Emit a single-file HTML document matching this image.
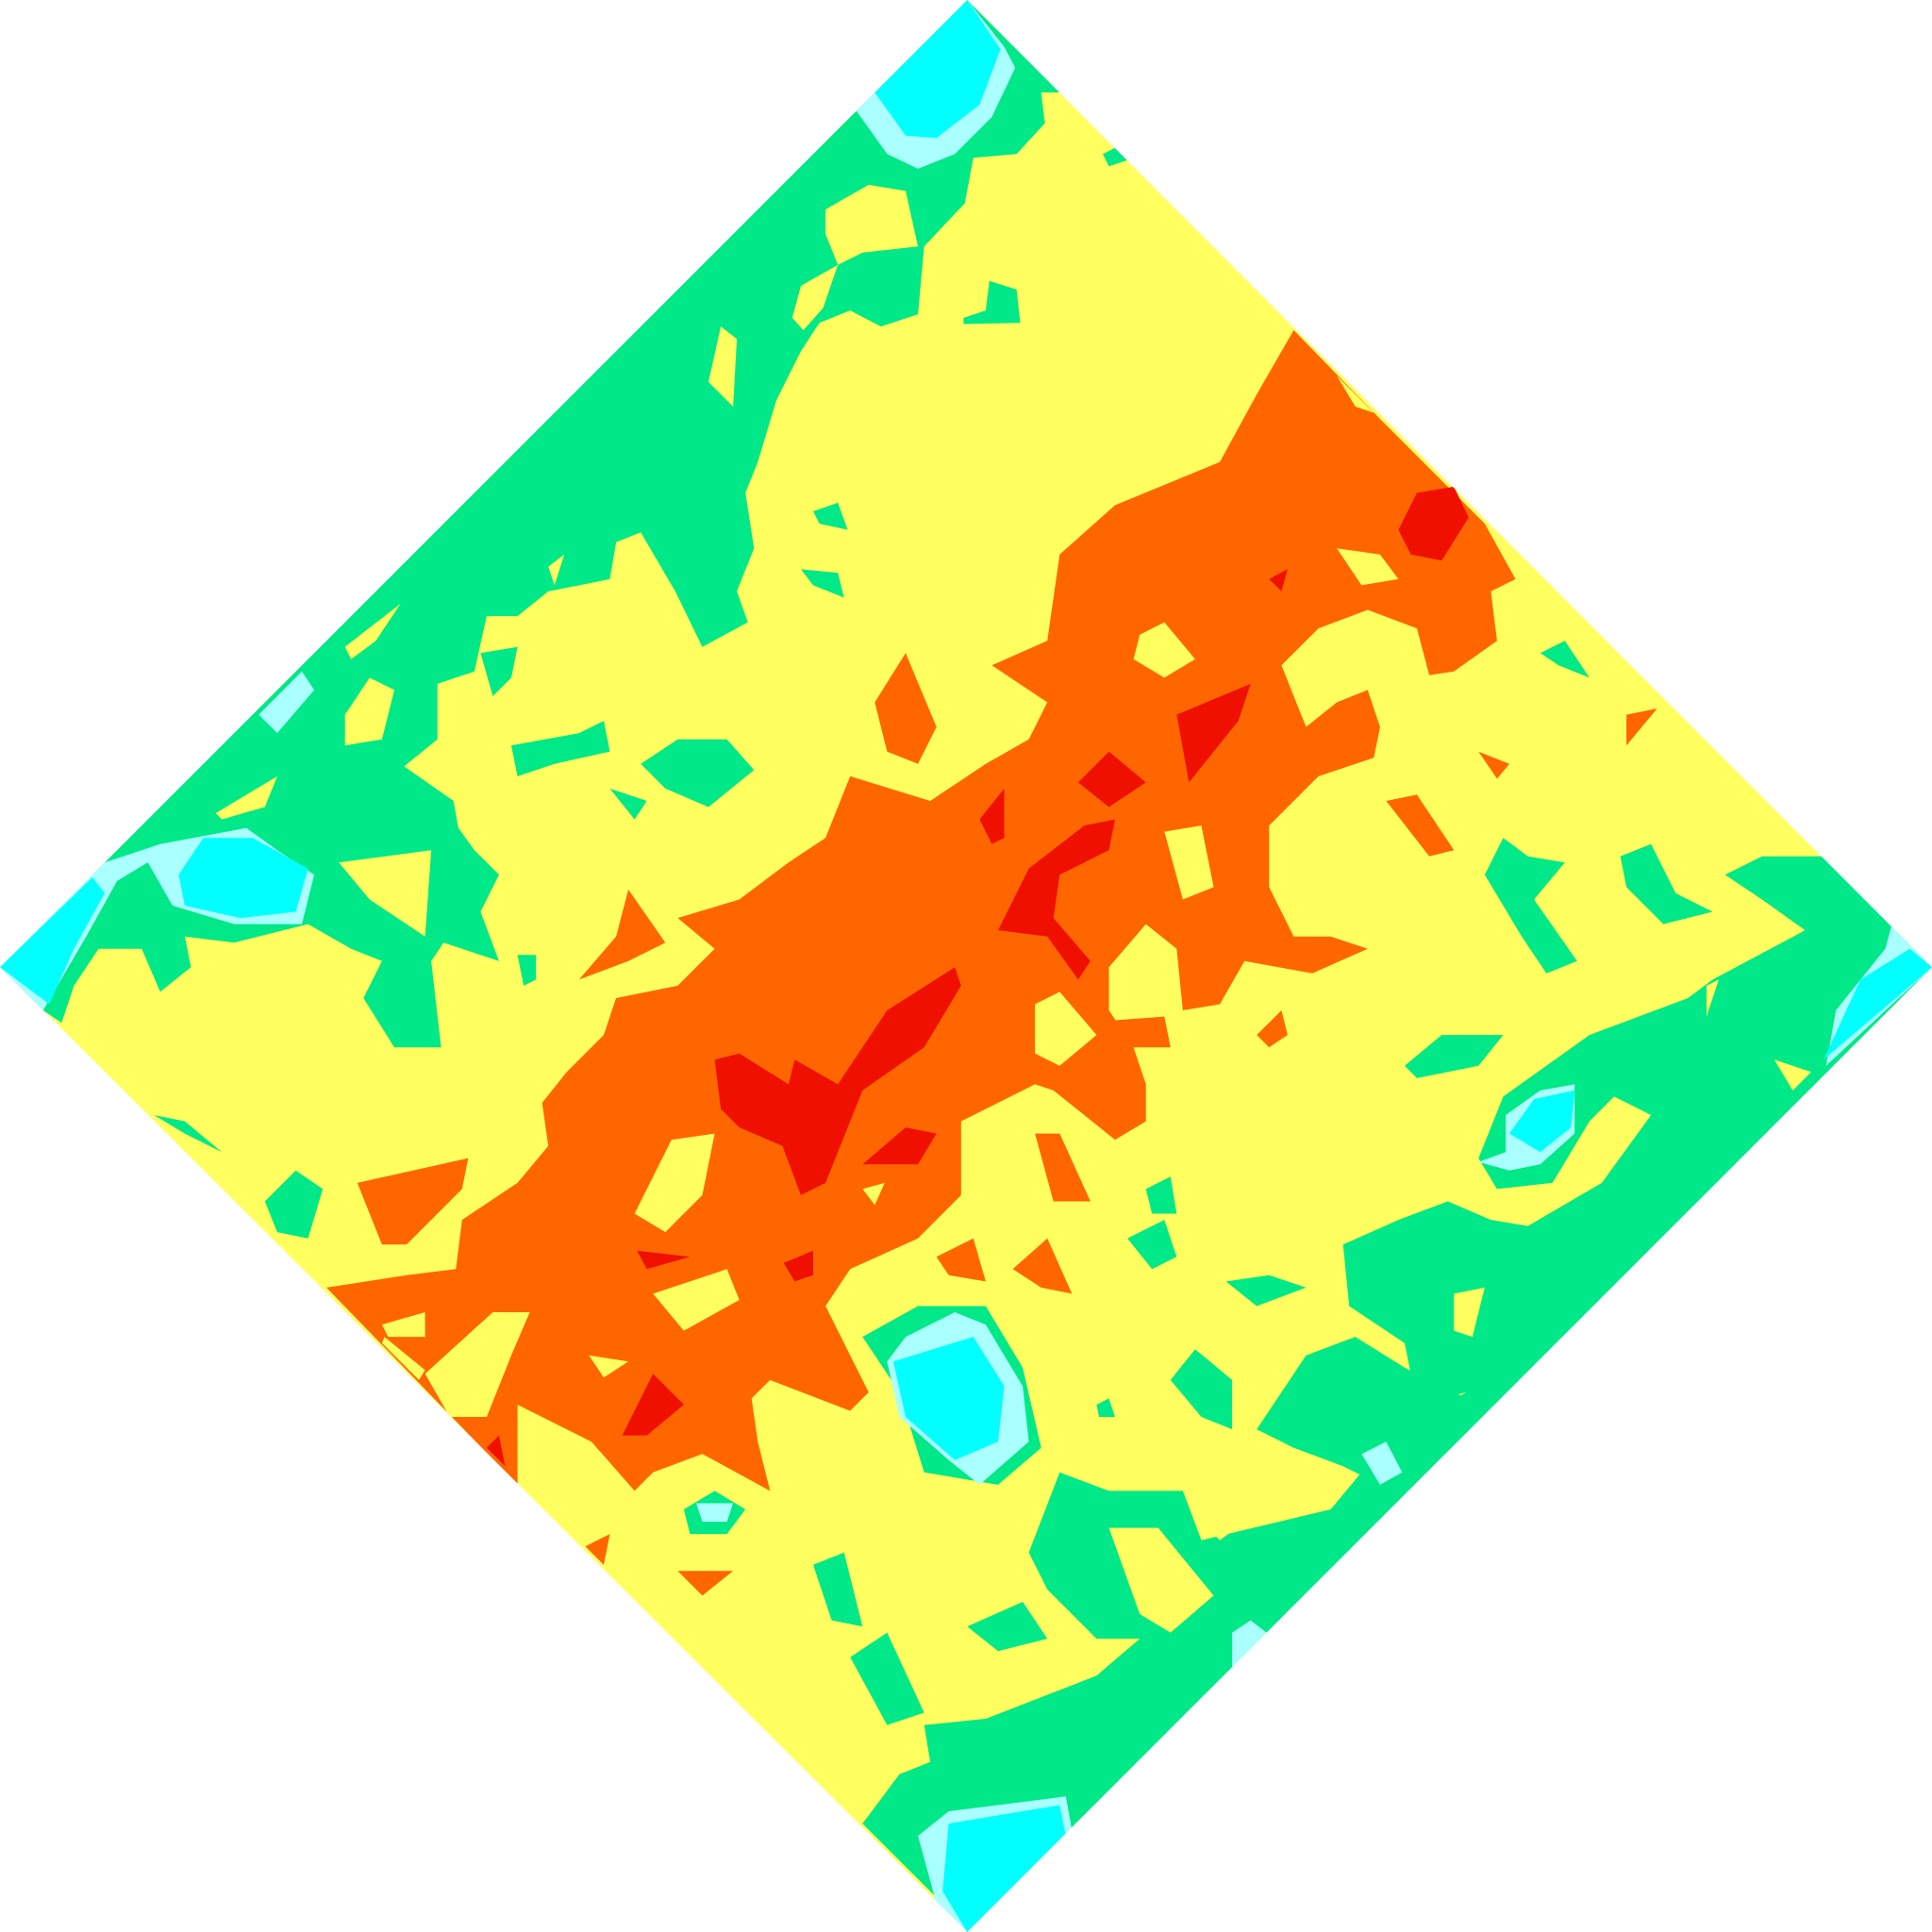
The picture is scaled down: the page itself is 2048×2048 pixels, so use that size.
<!DOCTYPE html>
<html lang="en">
<head>
<meta charset="utf-8">
<title>Contour map</title>
<style>
html,body{margin:0;padding:0;background:#fff;width:2048px;height:2048px;overflow:hidden}
svg{display:block}
</style>
</head>
<body>
<svg id="chart" xmlns="http://www.w3.org/2000/svg" width="2048" height="2048" viewBox="0 0 2048 2048">
<defs><clipPath id="diamond-clip"><polygon id="diamond-clip-shape" points="0,0"/></clipPath></defs>
<g id="plot" clip-path="url(#diamond-clip)"></g>
</svg>
<script>
const domainMax = 1568;
const rangeMax = 2048;
const outline = [[785,0],[1568,785],[785,1568],[0,785]];
const greenBands = [
[[0,785],[785,0],[860,75],[845,75],[848,100],[825,125],[790,128],[783,165],[750,200],[745,255],[715,265],[690,252],[665,262],[650,285],[630,325],[615,375],[605,400],[612,445],[598,480],[607,505],[570,525],[548,480],[520,432],[500,440],[495,470],[445,480],[420,500],[395,500],[385,545],[355,555],[355,600],[328,622],[368,650],[372,672],[385,690],[405,710],[390,740],[405,780],[360,765],[350,780],[358,850],[320,850],[295,810],[310,780],[285,770],[250,750],[190,765],[150,760],[155,785],[130,805],[115,770],[80,770],[60,800],[50,830],[35,820]],
[[1400,710],[1430,695],[1480,695],[1568,785],[785,1568],[760,1540],[700,1480],[730,1440],[755,1430],[750,1400],[800,1395],[890,1360],[925,1330],[890,1330],[850,1290],[835,1260],[860,1195],[900,1210],[960,1210],[975,1250],[1080,1225],[1130,1165],[1190,1130],[1150,1140],[1140,1090],[1095,1060],[1090,1010],[1135,990],[1175,975],[1210,990],[1240,995],[1300,960],[1340,905],[1310,890],[1290,910],[1260,960],[1215,965],[1200,940],[1220,890],[1290,840],[1370,810],[1390,795],[1465,755],[1430,730]],
[[895,125],[905,120],[915,130],[900,135]],
[[782,258],[800,252],[803,228],[825,235],[828,262],[782,263]],
[[660,415],[680,408],[688,430],[665,425]],
[[650,462],[680,465],[685,485],[660,475]],
[[390,530],[420,525],[415,550],[400,565]],
[[415,605],[470,595],[490,585],[495,610],[450,620],[420,630]],
[[520,620],[550,600],[590,600],[612,625],[575,655],[540,640]],
[[495,640],[525,650],[515,665]],
[[125,905],[150,910],[180,935],[150,920]],
[[215,975],[240,950],[262,965],[250,1005],[225,1000]],
[[420,775],[435,775],[435,795],[425,800]],
[[1205,710],[1220,680],[1240,695],[1270,700],[1245,730],[1280,780],[1255,790],[1235,760]],
[[1315,695],[1340,685],[1360,725],[1390,740],[1350,750],[1320,720]],
[[1140,865],[1170,840],[1220,840],[1200,865],[1150,875]],
[[930,965],[950,955],[955,985],[935,985]],
[[915,1005],[945,990],[955,1020],[935,1030]],
[[995,1040],[1030,1035],[1060,1045],[1020,1060]],
[[950,1120],[970,1095],[1000,1120],[1000,1160],[975,1150]],
[[890,1140],[900,1135],[905,1150],[892,1150]],
[[1020,1160],[1060,1100],[1100,1085],[1140,1110],[1190,1135],[1160,1160],[1130,1210],[1090,1190],[1050,1175]],
[[660,1270],[685,1260],[700,1320],[675,1315]],
[[690,1345],[720,1325],[750,1390],[720,1400]],
[[785,1320],[830,1300],[850,1330],[810,1340]],
[[700,1085],[745,1060],[800,1060],[830,1110],[845,1175],[810,1205],[750,1195],[730,1130]],
[[555,1225],[580,1210],[605,1225],[590,1245],[560,1245]],
[[1250,530],[1270,520],[1290,550],[1265,540]]
];
const yellowInGreen = [
[[670,170],[705,150],[735,155],[745,200],[700,205],[680,215],[670,190]],
[[643,258],[650,232],[680,215],[668,250],[652,268]],
[[575,310],[585,265],[598,275],[595,330]],
[[280,580],[300,550],[320,560],[310,600],[280,605]],
[[280,525],[325,490],[305,520],[285,535]],
[[175,660],[225,630],[215,655],[180,665]],
[[275,700],[350,690],[345,760],[300,730]],
[[445,460],[458,450],[450,475]],
[[1180,1050],[1205,1045],[1195,1085],[1180,1080]],
[[1440,860],[1470,870],[1455,885]],
[[1385,800],[1395,795],[1385,825]],
[[900,1240],[940,1240],[985,1295],[950,1325],[925,1310]],
[[980,1240],[1030,1220],[990,1250]]
];
const orangeBands = [
[[1050,268],[1120,340],[1205,425],[1230,470],[1210,480],[1215,520],[1180,545],[1160,548],[1150,510],[1110,495],[1070,510],[1040,540],[1060,590],[1085,570],[1110,560],[1120,590],[1115,615],[1070,630],[1030,670],[1030,720],[1050,760],[1080,760],[1110,770],[1065,790],[1010,780],[990,815],[960,820],[955,770],[930,750],[900,785],[900,820],[920,850],[930,880],[930,910],[905,925],[880,905],[855,885],[840,880],[780,910],[780,970],[745,1005],[690,1030],[670,1060],[690,1100],[705,1130],[690,1145],[625,1120],[610,1135],[615,1170],[625,1210],[570,1180],[530,1195],[515,1210],[480,1170],[420,1140],[420,1205],[265,1045],[330,1035],[370,1030],[375,990],[420,960],[445,930],[440,895],[460,870],[490,840],[500,810],[550,800],[580,770],[550,745],[600,730],[640,700],[670,680],[690,630],[755,650],[800,620],[835,600],[850,570],[805,540],[850,520],[860,450],[905,410],[990,375],[1020,320]],
[[710,570],[735,530],[760,590],[745,620],[720,610]],
[[470,795],[500,760],[510,722],[540,765],[510,780]],
[[290,960],[380,940],[375,965],[330,1010],[310,1010]],
[[760,1020],[790,1005],[800,1040],[770,1035]],
[[822,1030],[850,1005],[870,1050],[845,1045]],
[[840,920],[860,920],[885,975],[855,975]],
[[1125,650],[1150,645],[1180,690],[1160,695]],
[[1200,610],[1225,620],[1215,632]],
[[1320,580],[1345,575],[1320,605]],
[[550,1275],[595,1275],[570,1295]],
[[475,1255],[495,1245],[490,1270]],
[[1020,840],[1040,820],[1045,840],[1030,850]],
[[905,828],[945,825],[950,850],[915,850]]
];
const yellowInOrange = [
[[925,515],[945,505],[970,535],[945,550],[920,535]],
[[1085,445],[1120,450],[1135,470],[1105,475]],
[[1085,305],[1115,335],[1100,330]],
[[945,675],[975,670],[985,720],[960,730]],
[[840,815],[860,805],[890,840],[860,865],[840,855]],
[[515,985],[545,925],[580,920],[570,970],[540,1000]],
[[530,1050],[590,1030],[600,1055],[555,1080]],
[[700,965],[718,960],[710,978]],
[[310,1075],[345,1065],[345,1085],[315,1085]],
[[312,1085],[345,1112],[340,1120],[310,1090]],
[[345,1115],[400,1065],[430,1065],[415,1100],[395,1150],[365,1150]],
[[478,1100],[510,1105],[490,1118]]
];
const redBands = [
[[580,860],[600,855],[640,880],[645,860],[680,880],[720,820],[775,785],[780,800],[750,850],[700,885],[670,960],[650,970],[635,930],[600,915],[585,900]],
[[700,945],[735,915],[760,920],[745,945]],
[[1135,430],[1150,400],[1180,395],[1192,420],[1170,455],[1145,450]],
[[955,580],[1015,555],[1005,585],[965,635]],
[[875,635],[900,610],[930,635],[900,655]],
[[795,665],[815,640],[815,680],[805,685]],
[[810,755],[835,705],[880,670],[905,665],[900,690],[860,710],[855,745],[885,780],[875,795],[850,760]],
[[517,1015],[560,1020],[525,1030]],
[[636,1025],[660,1015],[660,1035],[645,1040]],
[[505,1165],[530,1115],[555,1140],[525,1165]],
[[1030,470],[1045,462],[1040,480]],
[[395,1175],[405,1165],[410,1190]]
];
const paleBands = [
[[695,90],[785,0],[815,38],[824,55],[805,95],[775,125],[745,137],[720,125]],
[[85,700],[130,685],[200,672],[225,690],[255,710],[245,750],[190,750],[140,735],[120,700],[95,715],[70,760],[35,820],[0,785]],
[[210,580],[245,545],[255,560],[225,595]],
[[745,1490],[770,1470],[865,1458],[870,1485],[785,1568],[760,1545]],
[[1535,752],[1568,785],[1482,865],[1490,820],[1530,770]],
[[1200,943],[1222,935],[1222,905],[1250,885],[1278,880],[1278,920],[1250,945],[1225,950]],
[[720,1105],[735,1085],[775,1065],[800,1075],[830,1125],[835,1170],[795,1205],[770,1185],[730,1150]],
[[1000,1325],[1015,1315],[1028,1325],[1000,1358]],
[[1105,1180],[1125,1170],[1138,1195],[1120,1205]],
[[565,1220],[595,1220],[590,1235],[570,1235]]
];
const cyanBands = [
[[710,75],[785,0],[812,40],[795,85],[760,112],[735,110]],
[[145,710],[165,680],[205,680],[250,705],[240,740],[195,745],[150,735]],
[[0,785],[75,712],[85,725],[60,770],[40,815]],
[[765,1535],[770,1480],[860,1465],[865,1490],[785,1568]],
[[1568,785],[1550,770],[1510,795],[1480,860]],
[[1225,920],[1245,892],[1278,885],[1275,915],[1250,935]],
[[725,1105],[790,1085],[815,1125],[810,1170],[775,1185],[735,1150]]
];

const xAxis = v => v * rangeMax / domainMax;
const yAxis = v => v * rangeMax / domainMax;
const toPoints = ring => ring.map(p => xAxis(p[0]).toFixed(1) + ',' + yAxis(p[1]).toFixed(1)).join(' ');

document.getElementById('diamond-clip-shape').setAttribute('points', toPoints(outline));
const plot = document.getElementById('plot');

function addRegion(ring, color, name) {
  const el = document.createElementNS('http://www.w3.org/2000/svg', 'polygon');
  el.setAttribute('points', toPoints(ring));
  el.setAttribute('fill', color);
  
  
  plot.appendChild(el);
}

addRegion(outline, '#ffff60', 'yellow-base-diamond');
greenBands.forEach(r => addRegion(r, '#00e887', 'green-contour-region'));
yellowInGreen.forEach(r => addRegion(r, '#ffff60', 'yellow-contour-region'));
orangeBands.forEach(r => addRegion(r, '#ff6600', 'orange-contour-region'));
yellowInOrange.forEach(r => addRegion(r, '#ffff60', 'yellow-contour-island'));
redBands.forEach(r => addRegion(r, '#f01000', 'red-contour-region'));
paleBands.forEach(r => addRegion(r, '#aaffff', 'pale-cyan-contour-region'));
cyanBands.forEach(r => addRegion(r, '#00ffff', 'cyan-contour-region'));
</script>
</body>
</html>
